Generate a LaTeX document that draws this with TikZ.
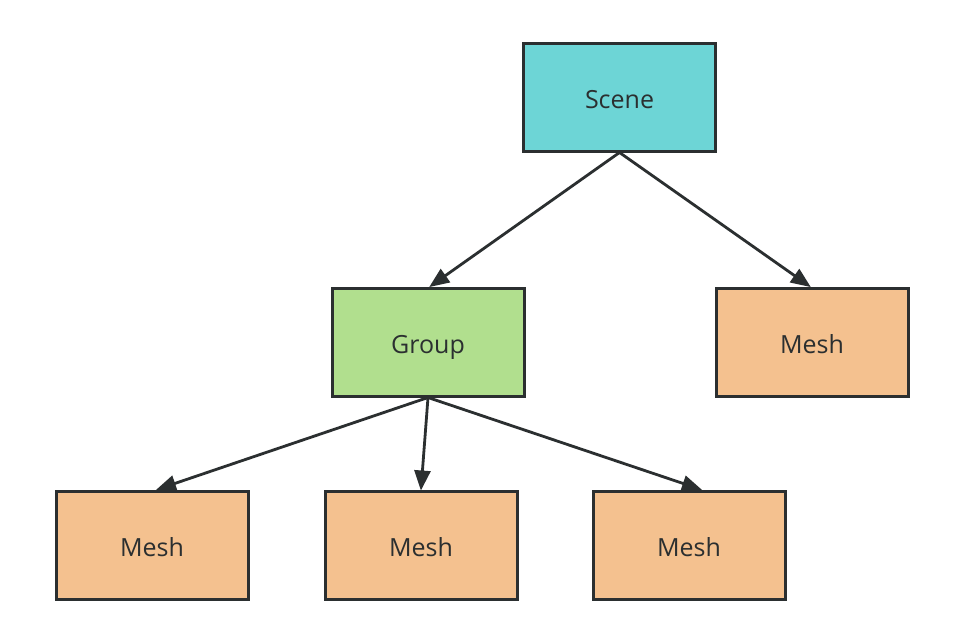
\documentclass[tikz,border=0pt]{standalone}
\usepackage{fontspec}
\setmainfont{Open Sans}
\usetikzlibrary{arrows.meta}
\definecolor{scenec}{HTML}{6DD5D6}
\definecolor{groupc}{HTML}{B1DF8E}
\definecolor{meshc}{HTML}{F4C18F}
\definecolor{edgec}{HTML}{2B2F30}
\tikzset{
  box/.style={draw=edgec, line width=3pt, minimum width=192pt, minimum height=108pt, inner sep=0pt, text height=22pt, text depth=0pt, font=\fontsize{25}{30}\selectfont, text=edgec},
  conn/.style={draw=edgec, line width=2.8pt, -{Triangle[length=20pt,width=16pt]}, shorten >=-1pt},
}
\begin{document}
\begin{tikzpicture}[x=1pt,y=-1pt]
\useasboundingbox[fill=white] (0,0) rectangle (973,625);
\node[box, fill=scenec] (scene) at (619.5,97) {Scene};
\node[box, fill=groupc] (group) at (428,342) {Group};
\node[box, fill=meshc] (mesh0) at (812,342) {Mesh};
\node[box, fill=meshc] (mesh1) at (152,545) {Mesh};
\node[box, fill=meshc] (mesh2) at (421,545) {Mesh};
\node[box, fill=meshc] (mesh3) at (689,545) {Mesh};
\coordinate (t0) at ([xshift=2pt]group.north);
\coordinate (t1) at ([xshift=-2pt]mesh0.north);
\coordinate (t2) at ([xshift=5pt]mesh1.north);
\coordinate (t3) at (mesh2.north);
\coordinate (t4) at ([xshift=12pt]mesh3.north);
\draw[conn] (scene.south) -- (t0);
\draw[conn] (scene.south) -- (t1);
\draw[conn] (group.south) -- (t2);
\draw[conn] (group.south) -- (t3);
\draw[conn] (group.south) -- (t4);
\end{tikzpicture}
\end{document}
